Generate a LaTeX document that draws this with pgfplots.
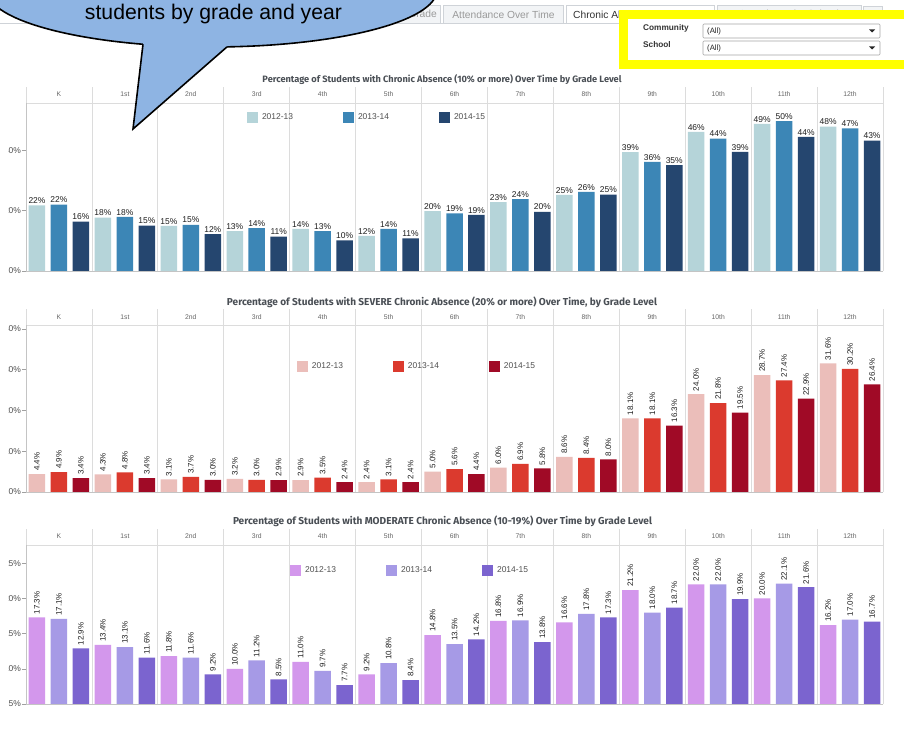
\documentclass[border=0pt]{standalone}
\usepackage{fontspec}
\setmainfont{Liberation Sans}
\newfontfamily\titlefont{Fira Sans}
\usepackage{graphicx}
\usepackage{pgfplots}
\pgfplotsset{compat=1.18}
\usepackage{pgfplotstable}

\definecolor{c1a}{HTML}{B5D4D9}
\definecolor{c1b}{HTML}{3C86B6}
\definecolor{c1c}{HTML}{25466F}
\definecolor{c2a}{HTML}{EBBEBA}
\definecolor{c2b}{HTML}{DB3A2E}
\definecolor{c2c}{HTML}{A00A26}
\definecolor{c3a}{HTML}{D397EC}
\definecolor{c3b}{HTML}{A69AE6}
\definecolor{c3c}{HTML}{7B64CF}
\definecolor{sepgray}{HTML}{DCDCDC}
\definecolor{axisgray}{HTML}{C4C4C4}
\definecolor{tickgray}{HTML}{A0A0A0}
\definecolor{labgray}{HTML}{505050}
\definecolor{hdrgray}{HTML}{666666}
\definecolor{titlegray}{HTML}{4A4F55}
\definecolor{bubble}{HTML}{8EB4E3}
\definecolor{tabfill}{HTML}{F2F4F6}
\definecolor{tabline}{HTML}{CFD3D8}
\definecolor{tabtext}{HTML}{9A9A9A}
\definecolor{hiyellow}{HTML}{FFFF00}

% grade centres in axis units (3 slots per grade)
\pgfplotstableread{
x    a    b    c
1.5  21.7 22.0 16.3
4.5  17.7 17.9 15.0
7.5  14.9 15.3 12.2
10.5 13.2 14.2 11.4
13.5 13.9 13.2 10.1
16.5 11.6 13.9 10.8
19.5 19.8 19.1 18.6
22.5 22.8 23.8 19.6
25.5 25.2 26.2 25.3
28.5 39.3 36.1 35.0
31.5 46.0 43.8 39.4
34.5 48.7 49.6 44.4
37.5 47.8 47.2 43.1
}\chronic

\pgfplotstableread{
x    a    b    c
1.5  4.4  4.9  3.4
4.5  4.3  4.8  3.4
7.5  3.1  3.7  3.0
10.5 3.2  3.0  2.9
13.5 2.9  3.5  2.4
16.5 2.4  3.1  2.4
19.5 5.0  5.6  4.4
22.5 6.0  6.9  5.8
25.5 8.6  8.4  8.0
28.5 18.1 18.1 16.3
31.5 24.0 21.8 19.5
34.5 28.7 27.4 22.9
37.5 31.6 30.2 26.4
}\severe

\pgfplotstableread{
x    a    b    c
1.5  17.3 17.1 12.9
4.5  13.4 13.1 11.6
7.5  11.8 11.6 9.2
10.5 10.0 11.2 8.5
13.5 11.0 9.7  7.7
16.5 9.2  10.8 8.4
19.5 14.8 13.5 14.2
22.5 16.8 16.9 13.8
25.5 16.6 17.8 17.3
28.5 21.2 18.0 18.7
31.5 22.0 22.0 19.9
34.5 20.0 22.1 21.6
37.5 16.2 17.0 16.7
}\moderate

\pgfplotsset{
  panel/.style={
    scale only axis, width=857bp, xmin=0, xmax=39,
    ybar, bar width=16.5bp,
    xtick=\empty, ytick pos=left,
    axis x line*=bottom, axis y line*=left,
    axis line style={draw=axisgray, line width=0.8bp},
    tick align=outside, major tick length=4bp,
    ytick style={draw=tickgray, line width=0.6bp},
    yticklabel style={font=\fontsize{8.5}{10}\selectfont, text=labgray, xshift=2.5bp},
    /pgf/number format/assume math mode=true,
    legend columns=3,
    legend image code/.code={\fill[##1] (0bp,-5.5bp) rectangle (11bp,5.5bp);},
    legend style={draw=none, fill=none, inner sep=0pt, outer sep=0pt, anchor=west,
      font=\fontsize{8.5}{10}\selectfont, text=labgray,
      /tikz/every odd column/.append style={column sep=4bp},
      nodes={inner sep=0pt, text width=81bp, align=left}},
    every node near coord/.append style={text=black!88},
  },
}

\tikzset{
  sepline/.style={draw=sepgray, line width=0.8bp},
  hdr/.style={font=\fontsize{6.8}{8}\selectfont, text=hdrgray, inner sep=0pt},
}

\newcommand\gradeheader[4]{% bottom, top, header line, label y
  \foreach \k in {0,...,13} {\draw[sepline] ({26+65.923*\k},#1) -- ({26+65.923*\k},#2);}
  \draw[sepline] (26,#3) -- (883,#3);
  \foreach \g [count=\i from 0] in {K,1st,2nd,3rd,4th,5th,6th,7th,8th,9th,10th,11th,12th}
    {\node[hdr] at ({58.96+65.923*\i},#4) {\g};}
}

\begin{document}
\begin{tikzpicture}[x=1bp,y=1bp]
\fill[white] (0,0) rectangle (904,733);

% ---------- tabs ----------
\draw[tabline, line width=0.6bp] (0,710) -- (620,710);
\begin{scope}
  \clip (380,709) rectangle (441,729);
  \draw[tabline, fill=tabfill, line width=0.6bp] (340,710) rectangle (440,728);
  \node[anchor=east, text=tabtext, font=\fontsize{10.3}{12}\selectfont, inner sep=0pt] at (437,718.5) {Attendance by Grade};
\end{scope}
\draw[tabline, fill=tabfill, line width=0.6bp] (443,710) rectangle (563,728);
\node[text=tabtext, font=\fontsize{10.3}{12}\selectfont, inner sep=0pt] at (503.5,718.5) {Attendance Over Time};
\draw[tabline, fill=white, line width=0.6bp] (566,710) -- (566,728) -- (714,728) -- (714,710);
\node[anchor=west, text=black!80, font=\fontsize{10.3}{12}\selectfont, inner sep=0pt] at (573,718.5) {Chronic Absence Over Time};
\draw[tabline, fill=tabfill, line width=0.6bp] (717,710) rectangle (861,728);
\node[text=tabtext, font=\fontsize{10.3}{12}\selectfont, inner sep=0pt] at (789,718.5) {Attendance by School};
\draw[tabline, fill=tabfill, line width=0.6bp] (863,712) rectangle (882,727);

% ---------- filter box ----------
\draw[hiyellow, line width=8.5bp, fill=white] (623.5,718.5) rectangle (915,668.5);
\node[anchor=west, inner sep=0pt, text=black!80, font=\fontsize{8.3}{10}\selectfont\bfseries] at (643,705) {Community};
\node[anchor=west, inner sep=0pt, text=black!80, font=\fontsize{8.3}{10}\selectfont\bfseries] at (643,688) {School};
\draw[draw=black!35, fill=white, line width=0.6bp, rounded corners=1bp] (703,709) rectangle (880,695);
\draw[draw=black!35, fill=white, line width=0.6bp, rounded corners=1bp] (703,692) rectangle (880,678);
\node[anchor=west, inner sep=0pt, text=black!85, font=\fontsize{7.8}{9}\selectfont] at (707,702) {(All)};
\node[anchor=west, inner sep=0pt, text=black!85, font=\fontsize{7.8}{9}\selectfont] at (707,685) {(All)};
\fill[black!85] (869,703.5) -- (875,703.5) -- (872,700.5) -- cycle;
\fill[black!85] (869,686.5) -- (875,686.5) -- (872,683.5) -- cycle;

% ---------- titles ----------
\node[text=titlegray, inner sep=0pt] at (442,653) {\resizebox{359bp}{!}{\titlefont\bfseries Percentage of Students with Chronic Absence (10\% or more) Over Time by Grade Level}};
\node[text=titlegray, inner sep=0pt] at (442,431) {\resizebox{430bp}{!}{\titlefont\bfseries Percentage of Students with SEVERE Chronic Absence (20\% or more) Over Time, by Grade Level}};
\node[text=titlegray, inner sep=0pt] at (442.5,212) {\resizebox{419bp}{!}{\titlefont\bfseries Percentage of Students with MODERATE Chronic Absence (10-19\%) Over Time by Grade Level}};

\begin{scope}
\clip (8.6,0) rectangle (904,733);
% ---------- panel 1 ----------
\gradeheader{462}{646}{630}{638.5}
\begin{axis}[panel, at={(26bp,462bp)}, anchor=south west, height=168bp,
  ymin=0, ymax=55.6, ytick={0,20,40}, yticklabels={0\%,20\%,40\%},
  legend style={at={(rel axis cs:0.2579,0.9137)}},
  nodes near coords={\pgfmathprintnumber[fixed,precision=0]{\pgfplotspointmeta}\%},
  every node near coord/.append style={font=\fontsize{8.5}{10}\selectfont, anchor=south, inner sep=1.5bp}]
\addplot[fill=c1a, draw=none, bar shift=-21.974bp] table[x=x,y=a]{\chronic};
\addplot[fill=c1b, draw=none, bar shift=0bp] table[x=x,y=b]{\chronic};
\addplot[fill=c1c, draw=none, bar shift=21.974bp] table[x=x,y=c]{\chronic};
\legend{2012-13,2013-14,2014-15}
\end{axis}

% ---------- panel 2 ----------
\gradeheader{241}{424}{408}{416}
\begin{axis}[panel, at={(26bp,241bp)}, anchor=south west, height=167bp,
  ymin=0, ymax=41, ytick={0,10,20,30,40}, yticklabels={0\%,10\%,20\%,30\%,40\%},
  legend style={at={(rel axis cs:0.3162,0.7515)}},
  nodes near coords={\pgfmathprintnumber[fixed,fixed zerofill,precision=1]{\pgfplotspointmeta}\%},
  every node near coord/.append style={font=\fontsize{8}{9}\selectfont, rotate=90, anchor=west, inner sep=3bp}]
\addplot[fill=c2a, draw=none, bar shift=-21.974bp] table[x=x,y=a]{\severe};
\addplot[fill=c2b, draw=none, bar shift=0bp] table[x=x,y=b]{\severe};
\addplot[fill=c2c, draw=none, bar shift=21.974bp] table[x=x,y=c]{\severe};
\legend{2012-13,2013-14,2014-15}
\end{axis}

% ---------- panel 3 ----------
\gradeheader{29}{204}{188}{196.5}
\begin{axis}[panel, at={(26bp,29bp)}, anchor=south west, height=159bp,
  ymin=5, ymax=27.6, ytick={5,10,15,20,25}, yticklabels={5\%,10\%,15\%,20\%,25\%},
  legend style={at={(rel axis cs:0.3081,0.8396)}},
  nodes near coords={\pgfmathprintnumber[fixed,fixed zerofill,precision=1]{\pgfplotspointmeta}\%},
  every node near coord/.append style={font=\fontsize{8}{9}\selectfont, rotate=90, anchor=west, inner sep=3bp}]
\addplot[fill=c3a, draw=none, bar shift=-21.974bp] table[x=x,y=a]{\moderate};
\addplot[fill=c3b, draw=none, bar shift=0bp] table[x=x,y=b]{\moderate};
\addplot[fill=c3c, draw=none, bar shift=21.974bp] table[x=x,y=c]{\moderate};
\legend{2012-13,2013-14,2014-15}
\end{axis}
\end{scope}

% ---------- callout bubble ----------
\begin{scope}
\clip (0,0) rectangle (904,733);
\fill[bubble] (212,743) ellipse [x radius=225, y radius=57];
\draw[black, line width=1.6bp] (212,743) ellipse [x radius=225, y radius=57];
\fill[bubble] (143,693) -- (143,688.7) -- (133,604) -- (227,686.1) -- (227,691) -- cycle;
\draw[black, line width=1.6bp, line join=miter] (143,688.7) -- (133,604) -- (227,686.1);
\node[anchor=base, inner sep=0pt] at (213.5,713) {\resizebox{257bp}{!}{students by grade and year}};
\end{scope}

\pgfresetboundingbox
\path[use as bounding box] (0,0) rectangle (904,733);
\end{tikzpicture}
\end{document}
